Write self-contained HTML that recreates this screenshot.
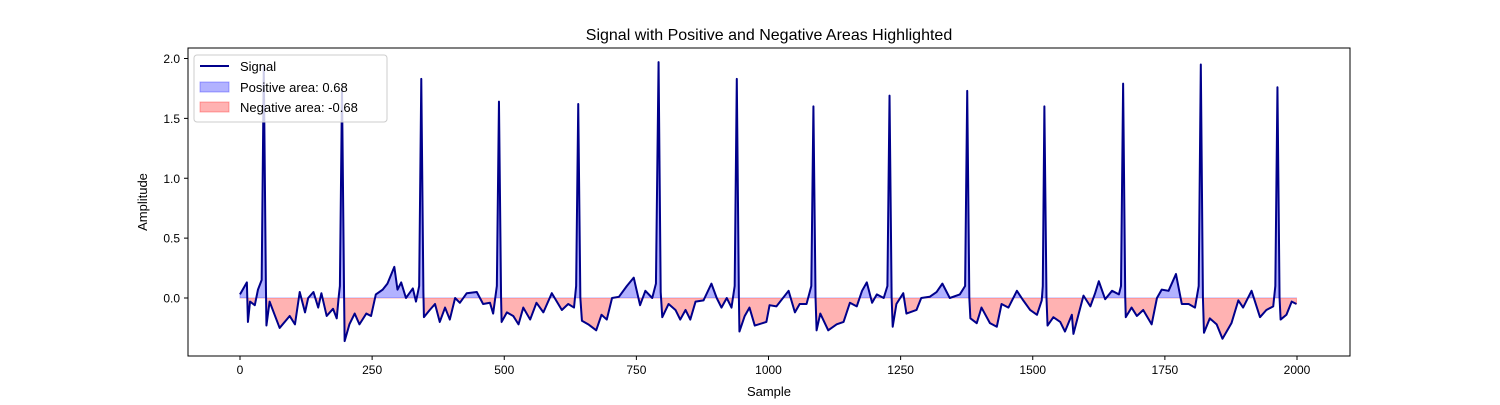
<!DOCTYPE html>
<html><head><meta charset="utf-8"><style>
body{margin:0;background:#fff;}
svg text{font-family:"Liberation Sans","DejaVu Sans",sans-serif;fill:#000;}
</style></head><body>
<svg id="chart" width="1500" height="400" viewBox="0 0 1500 400" xmlns="http://www.w3.org/2000/svg">
<rect width="1500" height="400" fill="#fff"/>
<text x="769" y="40" font-size="16" text-anchor="middle">Signal with Positive and Negative Areas Highlighted</text>
<defs>
<clipPath id="clipPos"><rect id="cpPos" x="188" y="48" width="1162" height="250"/></clipPath>
<clipPath id="clipNeg"><rect id="cpNeg" x="188" y="298" width="1162" height="58"/></clipPath>
</defs>
<g id="plot"></g>
<rect x="188" y="48" width="1162" height="308" fill="none" stroke="#000" stroke-width="1"/>
<g id="xaxis"></g><g id="yaxis"></g>
<text x="769" y="396" font-size="13" text-anchor="middle">Sample</text>
<text x="147" y="202" font-size="13" text-anchor="middle" transform="rotate(-90 147 202)">Amplitude</text>
<g>
<rect x="194" y="55" width="193" height="67" rx="3" fill="#fff" fill-opacity="0.8" stroke="#ccc"/>
<line x1="200" y1="66" x2="229" y2="66" stroke="#00008b" stroke-width="2"/>
<text x="240" y="71" font-size="13">Signal</text>
<rect x="200" y="82" width="29" height="10" fill="rgba(0,0,255,0.3)" stroke="rgba(0,0,255,0.3)"/>
<text x="240" y="92" font-size="13">Positive area: 0.68</text>
<rect x="200" y="102" width="29" height="10" fill="rgba(255,0,0,0.3)" stroke="rgba(255,0,0,0.3)"/>
<text x="240" y="112" font-size="13">Negative area: -0.68</text>
</g>
</svg>
<script>
const samples=[0,13,15,19,28,34,41,45,49,50,56,75,94,104,113,123,129,139,148,154,164,176,183,187,189,193,197,198,207,217,226,239,248,257,270,279,292,298,305,314,327,333,339,343,347,348,359,369,378,388,397,407,416,429,448,460,473,479,486,490,494,495,505,517,527,536,549,561,574,590,609,621,632,636,640,644,647,659,674,684,694,704,717,732,745,757,767,780,787,792,796,799,811,824,833,843,852,862,877,892,902,911,921,930,936,940,944,945,955,964,974,996,1002,1015,1038,1050,1059,1072,1081,1085,1089,1091,1098,1113,1129,1142,1154,1167,1177,1186,1196,1205,1218,1225,1229,1233,1235,1242,1255,1261,1280,1289,1305,1318,1329,1343,1362,1372,1376,1380,1382,1394,1403,1419,1432,1441,1454,1470,1482,1495,1508,1517,1519,1522,1526,1528,1539,1552,1561,1574,1577,1587,1596,1609,1618,1625,1637,1650,1663,1667,1671,1675,1676,1687,1697,1709,1725,1735,1744,1757,1771,1782,1795,1807,1814,1818,1822,1824,1835,1848,1859,1876,1889,1898,1914,1930,1942,1955,1959,1963,1967,1969,1980,1990,1999];
const values=[0.03,0.13,-0.2,-0.03,-0.06,0.07,0.15,1.93,0.1,-0.23,-0.03,-0.25,-0.15,-0.22,0.05,-0.12,0.0,0.05,-0.08,0.04,-0.15,-0.09,-0.17,0.02,0.1,1.74,0.0,-0.36,-0.22,-0.13,-0.22,-0.13,-0.15,0.03,0.07,0.12,0.26,0.07,0.13,0.0,0.08,-0.03,0.1,1.83,0.05,-0.16,-0.1,-0.05,-0.2,-0.08,-0.18,0.0,-0.04,0.04,0.05,-0.05,-0.04,-0.13,0.1,1.64,0.0,-0.2,-0.12,-0.15,-0.22,-0.08,-0.18,-0.04,-0.12,0.04,-0.1,-0.05,-0.08,0.1,1.62,0.0,-0.19,-0.22,-0.27,-0.14,-0.18,0.0,0.01,0.1,0.17,-0.06,0.06,0.0,0.12,1.97,0.05,-0.16,-0.05,-0.1,-0.18,-0.1,-0.18,-0.03,-0.02,0.12,0.0,-0.08,0.0,-0.08,0.1,1.83,0.0,-0.28,-0.15,-0.08,-0.23,-0.2,-0.06,-0.07,0.06,-0.12,-0.05,-0.05,0.1,1.6,0.0,-0.27,-0.13,-0.27,-0.22,-0.2,-0.04,-0.07,0.06,0.13,-0.04,0.03,0.0,0.1,1.69,0.0,-0.24,-0.05,0.04,-0.13,-0.1,0.0,0.01,0.05,0.12,0.0,0.03,0.1,1.73,0.0,-0.17,-0.21,-0.08,-0.21,-0.24,-0.05,-0.08,0.06,-0.02,-0.1,-0.14,-0.02,0.1,1.6,0.0,-0.23,-0.16,-0.2,-0.28,-0.14,-0.3,-0.13,0.02,-0.07,0.04,0.14,-0.01,0.06,0.03,0.1,1.79,0.0,-0.16,-0.08,-0.15,-0.1,-0.22,0.0,0.07,0.06,0.2,-0.05,-0.05,-0.08,0.1,1.95,0.0,-0.29,-0.17,-0.22,-0.34,-0.21,-0.02,-0.08,0.06,-0.16,-0.1,-0.07,0.1,1.76,0.0,-0.18,-0.14,-0.03,-0.05];
const xTicks=[0,250,500,750,1000,1250,1500,1750,2000];
const yTicks=[0.0,0.5,1.0,1.5,2.0];
const NS='http://www.w3.org/2000/svg';
const X0=240,XS=(1297-240)/2000,Y0=298,YS=119.75;
function xs(s){return X0+s*XS;}
function ys(v){return Y0-v*YS;}
const svg=document.getElementById('chart');
const plot=document.getElementById('plot');
function mk(tag,attrs,parent){const e=document.createElementNS(NS,tag);for(const k in attrs)e.setAttribute(k,attrs[k]);parent.appendChild(e);return e;}
document.getElementById('cpPos').setAttribute('y',48);
document.getElementById('cpPos').setAttribute('height',ys(0)-48);
document.getElementById('cpNeg').setAttribute('y',ys(0));
document.getElementById('cpNeg').setAttribute('height',356-ys(0));
let line='';
for(let i=0;i<samples.length;i++){line+=(i?'L':'M')+xs(samples[i]).toFixed(2)+','+ys(values[i]).toFixed(2);}
const area=line+'L'+xs(samples[samples.length-1]).toFixed(2)+','+ys(0)+'L'+xs(samples[0]).toFixed(2)+','+ys(0)+'Z';
const pos=mk('path',{d:area,fill:'rgba(0,0,255,0.3)',stroke:'rgba(0,0,255,0.3)','clip-path':'url(#clipPos)'},plot);


const neg=mk('path',{d:area,fill:'rgba(255,0,0,0.3)',stroke:'rgba(255,0,0,0.3)','clip-path':'url(#clipNeg)'},plot);


const sig=mk('path',{d:line,fill:'none',stroke:'#00008b','stroke-width':2,'stroke-linejoin':'round'},plot);


const xa=document.getElementById('xaxis');
xTicks.forEach(t=>{
  const g=mk('g',{},xa);
  
  
  mk('line',{x1:xs(t),x2:xs(t),y1:356,y2:360,stroke:'#000'},g);
  const tx=mk('text',{x:xs(t),y:374,'font-size':12,'text-anchor':'middle'},g);tx.textContent=t;
});
const ya=document.getElementById('yaxis');
yTicks.forEach(t=>{
  const g=mk('g',{},ya);
  
  
  mk('line',{x1:184,x2:188,y1:ys(t),y2:ys(t),stroke:'#000'},g);
  const tx=mk('text',{x:180,y:ys(t)+4.5,'font-size':12,'text-anchor':'end'},g);tx.textContent=t.toFixed(1);
});
</script>
</body></html>
